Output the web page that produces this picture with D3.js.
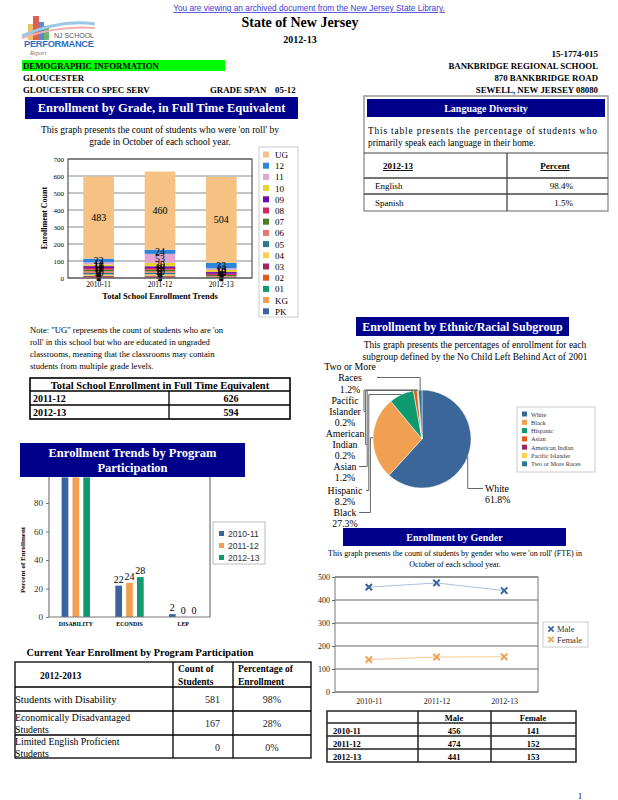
<!DOCTYPE html>
<html><head><meta charset="utf-8">
<script src="https://cdn.jsdelivr.net/npm/d3@7"></script>
<style>
body{margin:0;background:#fff;}
svg{display:block;}
</style></head>
<body>
<svg id="c" width="618" height="800" font-family="'Liberation Serif', 'Times New Roman', serif"></svg>
<script>
// ---------- DATA ----------
const years = ["2010-11","2011-12","2012-13"];
const grades = ["PK","KG","01","02","03","04","05","06","07","08","09","10","11","12","UG"];
const gradeColors = ["#3a64a0","#f0a050","#0e9a6e","#e05a1e","#a02860","#ffd04f","#2a7a8c","#e5786b","#4a7a1e","#d6255b","#6a0dad","#e5d22e","#e0a6d0","#2e86d9","#f5c283"];
const enroll2010 = [0,1,2,4,6,8,9,10,9,10,11,10,12,22,483];
const enroll2011 = [0,1,2,5,6,8,9,10,9,9,10,20,53,24,460];
const enroll2012 = [0,0,0,0,1,2,4,5,6,7,10,12,10,33,504];
const gradeTicks = [0,100,200,300,400,500,600,700];

const totalYears = ["2011-12","2012-13"];
const totalValues = [626,594];

const languages = ["English","Spanish"];
const languagePct = ["98.4%","1.5%"];

const programs = ["DISABILITY","ECONDIS","LEP"];
const prog2010 = [98,22,2];
const prog2011 = [98,24,0];
const prog2012 = [98,28,0];
const progColors = ["#3a64a0","#f0a050","#0e9a6e"];
const progTicks = [0,20,40,60,80];

const progRows = ["Students with Disability","Economically Disadvantaged|Students","Limited English Proficient|Students"];
const progCounts = [581,167,0];
const progPct = ["98%","28%","0%"];

const ethnicNames = ["White","Black","Hispanic","Asian","American Indian","Pacific Islander","Two or More Races"];
const ethnicPct = [61.8,27.3,8.2,1.2,0.2,0.2,1.2];
const ethnicColors = ["#3b6699","#f0a050","#0e9a6e","#e05a1e","#a02860","#ffd04f","#2a7a8c"];

const genderMale = [456,474,441];
const genderFemale = [141,152,153];
const genderTicks = [0,100,200,300,400,500];

// ---------- SETUP ----------
const svg = d3.select("#c");
const NAVY = "#00008b";
const SERIF = "'Liberation Serif','Times New Roman',serif";
const SANS = "'Liberation Sans',Arial,sans-serif";
function txt(g,x,y,s,o={}){
  const t=g.append("text").attr("x",x).attr("y",y).text(s)
    .attr("font-size",o.size||10).attr("fill",o.fill||"#000")
    .attr("font-family",o.family||SERIF)
    .attr("text-anchor",o.anchor||"start");
  if(o.bold) t.attr("font-weight","bold");
  if(o.italic) t.attr("font-style","italic");
  if(o.underline) t.attr("text-decoration","underline");
  if(o.len) t.attr("textLength",o.len).attr("lengthAdjust","spacing");
  return t;
}
function navyBox(x,y,w,h,lines,size){
  svg.append("rect").attr("x",x).attr("y",y).attr("width",w).attr("height",h).attr("fill",NAVY);
  const n=lines.length, lh=size*1.25;
  lines.forEach((l,i)=>txt(svg,x+w/2,y+h/2+(i-(n-1)/2)*lh+size*0.35,l,{size:size,bold:true,fill:"#fff",anchor:"middle"}));
}

// ---------- HEADER ----------
txt(svg,309,11,"You are viewing an archived document from the New Jersey State Library.",{size:8.3,family:SANS,fill:"#3a3ad6",anchor:"middle",underline:true});
const logo = svg.append("g");
[["#d03a2a",33,16,6,24],["#2e6fc0",39,22,5,18],["#4aa04a",44,26,5,14],["#e8b040",28,24,5,16]].forEach(b=>
  logo.append("rect").attr("x",b[1]).attr("y",b[2]).attr("width",b[3]).attr("height",b[4]).attr("fill",b[0]).attr("opacity",0.8));
logo.append("path").attr("d","M22,36 C45,26 70,20 95,24").attr("fill","none").attr("stroke","#9ac8e8").attr("stroke-width",3);
logo.append("path").attr("d","M22,38 C45,30 70,26 95,28").attr("fill","none").attr("stroke","#f0b0b0").attr("stroke-width",2);
txt(logo,94,38,"NJ SCHOOL",{size:7,family:SANS,fill:"#555",anchor:"end"});
txt(logo,24,47,"PERFORMANCE",{size:9.3,family:SANS,bold:true,fill:"#2e6fc0",len:70});
txt(logo,30,55,"Report",{size:6,italic:true,fill:"#777"});

txt(svg,300,27,"State of New Jersey",{size:14,bold:true,anchor:"middle"});
txt(svg,300,43,"2012-13",{size:10,bold:true,anchor:"middle"});
txt(svg,598,57,"15-1774-015",{size:9,bold:true,anchor:"end"});
svg.append("rect").attr("x",22).attr("y",60).attr("width",203).attr("height",11).attr("fill","#00ff00");
txt(svg,23,69,"DEMOGRAPHIC INFORMATION",{size:8.8,bold:true});
txt(svg,598,69,"BANKBRIDGE REGIONAL SCHOOL",{size:8.8,bold:true,anchor:"end"});
txt(svg,23,81,"GLOUCESTER",{size:8.8,bold:true});
txt(svg,598,81,"870 BANKBRIDGE ROAD",{size:8.8,bold:true,anchor:"end"});
txt(svg,23,93,"GLOUCESTER CO SPEC SERV",{size:8.8,bold:true});
txt(svg,210,93,"GRADE SPAN    05-12",{size:8.8,bold:true}).attr("xml:space","preserve").style("white-space","pre");
txt(svg,598,93,"SEWELL, NEW JERSEY 08080",{size:8.8,bold:true,anchor:"end"});

// ---------- ENROLLMENT BY GRADE ----------
navyBox(25,97,273,22,["Enrollment by Grade, in Full Time Equivalent"],12.5);
txt(svg,160,133,"This graph presents the count of students who were 'on roll' by",{size:9.5,anchor:"middle"});
txt(svg,160,145,"grade in October of each school year.",{size:9.5,anchor:"middle"});

const gData = years.map((y,i)=>{const v=[enroll2010,enroll2011,enroll2012][i];const o={year:y};grades.forEach((g,j)=>o[g]=v[j]);return o;});
const gx = d3.scaleBand().domain(years).range([68,252]).paddingInner(0.5).paddingOuter(0.25);
const gy = d3.scaleLinear().domain([0,700]).range([278,159]);
const gChart = svg.append("g");
gChart.append("g").selectAll("line").data(gradeTicks).join("line")
  .attr("x1",68).attr("x2",252).attr("y1",d=>gy(d)).attr("y2",d=>gy(d)).attr("stroke","#8a8a8a").attr("stroke-width",1);
const stack = d3.stack().keys(grades)(gData);
stack.forEach((layer,li)=>{
  gChart.append("g").selectAll("rect").data(layer).join("rect")
    .attr("x",d=>gx(d.data.year)).attr("width",gx.bandwidth())
    .attr("y",d=>gy(d[1])).attr("height",d=>gy(d[0])-gy(d[1]))
    .attr("fill",gradeColors[li]);
});
stack.forEach(layer=>{
  gChart.append("g").selectAll("text").data(layer.filter(d=>d[1]-d[0]>0)).join("text")
    .attr("x",d=>gx(d.data.year)+gx.bandwidth()/2).attr("y",d=>gy((d[0]+d[1])/2)+3.5)
    .attr("text-anchor","middle").attr("font-size",10).attr("font-family",SERIF).text(d=>d[1]-d[0]);
});
gChart.append("rect").attr("x",68).attr("y",159).attr("width",184).attr("height",119).attr("fill","none").attr("stroke","#555").attr("stroke-width",1.2);
const gyAxis = gChart.append("g").attr("transform","translate(68,0)").call(d3.axisLeft(gy).tickValues(gradeTicks).tickSize(0).tickPadding(4));
gyAxis.select(".domain").remove();
gyAxis.selectAll("text").attr("font-size",7).attr("font-family",SERIF);
const gxAxis = gChart.append("g").attr("transform","translate(0,278)").call(d3.axisBottom(gx).tickSize(0).tickPadding(4));
gxAxis.select(".domain").remove();
gxAxis.selectAll("text").attr("font-size",7.5).attr("font-family",SERIF);
txt(svg,160,299,"Total School Enrollment Trends",{size:8.5,bold:true,anchor:"middle"});
txt(svg,0,0,"Enrollment Count",{size:8,bold:true,anchor:"middle"}).attr("transform","translate(47,218) rotate(-90)");
const gl = svg.append("g");
gl.append("rect").attr("x",259).attr("y",147).attr("width",39).attr("height",170).attr("fill","#fff").attr("stroke","#ccc");
const legOrder = grades.slice().reverse();
legOrder.forEach((g,i)=>{
  const y=155+i*11.2;
  gl.append("rect").attr("x",263).attr("y",y-3.5).attr("width",6).attr("height",6).attr("fill",gradeColors[grades.indexOf(g)]);
  txt(gl,275,y+3,g,{size:9});
});

["Note: \"UG\" represents the count of students who are 'on","roll' in this school but who are educated in ungraded","classrooms, meaning that the classrooms may contain","students from multiple grade levels."]
  .forEach((l,i)=>txt(svg,30,333+i*12,l,{size:8.6}));

const tt = svg.append("g");
tt.append("rect").attr("x",30).attr("y",378).attr("width",260).attr("height",41).attr("fill","none").attr("stroke","#000").attr("stroke-width",1.6);
[391,405].forEach(y=>tt.append("line").attr("x1",30).attr("x2",290).attr("y1",y).attr("y2",y).attr("stroke","#000").attr("stroke-width",1.6));
tt.append("line").attr("x1",169).attr("x2",169).attr("y1",391).attr("y2",419).attr("stroke","#000").attr("stroke-width",1.3);
txt(tt,160,389,"Total School Enrollment in Full Time Equivalent",{size:10.5,bold:true,anchor:"middle"});
totalYears.forEach((y,i)=>{
  txt(tt,33,402+i*14,y,{size:10,bold:true});
  txt(tt,231,402+i*14,totalValues[i],{size:10,bold:true,anchor:"middle"});
});

// ---------- LANGUAGE DIVERSITY ----------
const ld = svg.append("g");
ld.append("rect").attr("x",364).attr("y",96).attr("width",244).attr("height",115).attr("fill","none").attr("stroke","#999").attr("stroke-width",1.5);
navyBox(367,99,238,18,["Language Diversity"],10);
txt(ld,368,134,"This table presents the percentage of students who",{size:9.3,len:229});
txt(ld,368,146,"primarily speak each language in their home.",{size:9.3});
[153,178,194].forEach((y,i)=>ld.append("line").attr("x1",364).attr("x2",608).attr("y1",y).attr("y2",y).attr("stroke","#444").attr("stroke-width",i==0?1:1.5));
ld.append("line").attr("x1",507).attr("x2",507).attr("y1",153).attr("y2",211).attr("stroke","#444").attr("stroke-width",1.3);
txt(ld,398,169,"2012-13",{size:9,bold:true,anchor:"middle",underline:true});
txt(ld,555,169,"Percent",{size:9,bold:true,anchor:"middle",underline:true});
languages.forEach((l,i)=>{
  txt(ld,375,189+i*16.5,l,{size:9});
  txt(ld,573,189+i*16.5,languagePct[i],{size:9,anchor:"end"});
});

// ---------- PROGRAM PARTICIPATION CHART ----------
const px = d3.scaleBand().domain(programs).range([49,210]).padding(0);
const bwp = px.bandwidth();
const pxi = d3.scaleBand().domain(years).range([bwp/2-14.2,bwp/2+14.2]).paddingInner(0.38);
const py = d3.scaleLinear().domain([0,100]).range([617,474.5]);
const pg = svg.append("g");
const progSeries = [prog2010,prog2011,prog2012];
const pData = [];
programs.forEach((p,i)=>years.forEach((y,j)=>pData.push({p:p,y:y,v:progSeries[j][i],c:progColors[j]})));
pg.selectAll("rect.b").data(pData).join("rect").attr("class","b")
  .attr("x",d=>px(d.p)+pxi(d.y)).attr("width",pxi.bandwidth())
  .attr("y",d=>py(d.v)).attr("height",d=>py(0)-py(d.v)).attr("fill",d=>d.c);
pg.selectAll("text.v").data(pData).join("text").attr("class","v")
  .attr("x",d=>px(d.p)+pxi(d.y)+pxi.bandwidth()/2).attr("y",d=>py(d.v)-3)
  .attr("text-anchor","middle").attr("font-size",10).attr("font-family",SERIF).text(d=>d.v);
pg.append("path").attr("d","M49,470 V617 H210 V470").attr("fill","none").attr("stroke","#777").attr("stroke-width",1.2);
const pyAxis = pg.append("g").attr("transform","translate(49,0)").call(d3.axisLeft(py).tickValues(progTicks).tickSize(3).tickPadding(3));
pyAxis.select(".domain").remove();
pyAxis.selectAll("line").attr("stroke","#777");
pyAxis.selectAll("text").attr("font-size",9).attr("font-family",SERIF).attr("fill","#333");
const pxAxis = pg.append("g").attr("transform","translate(0,617)").call(d3.axisBottom(px).tickSize(0).tickPadding(5));
pxAxis.select(".domain").remove();
pxAxis.selectAll("text").attr("font-size",5.8).attr("font-weight","bold").attr("font-family",SERIF);
txt(svg,0,0,"Percent of Enrollment",{size:7,bold:true,anchor:"middle"}).attr("transform","translate(25,560) rotate(-90)");
navyBox(20,443,225,34,["Enrollment Trends by Program","Participation"],12.5);
const pl = svg.append("g");
pl.append("rect").attr("x",213).attr("y",522).attr("width",52).attr("height",42).attr("fill","#fff").attr("stroke","#bbb");
years.forEach((y,i)=>{
  pl.append("rect").attr("x",219).attr("y",531+i*12).attr("width",5).attr("height",5).attr("fill",progColors[i]);
  txt(pl,228,537+i*12,y,{size:8.6,family:SANS,fill:"#333"});
});

// current year table
txt(svg,140,656,"Current Year Enrollment by Program Participation",{size:10.3,bold:true,anchor:"middle"});
const ct = svg.append("g");
ct.append("rect").attr("x",15).attr("y",662).attr("width",296).attr("height",96).attr("fill","none").attr("stroke","#000").attr("stroke-width",1.3);
[687,711,735].forEach(y=>ct.append("line").attr("x1",15).attr("x2",311).attr("y1",y).attr("y2",y).attr("stroke","#000").attr("stroke-width",1.3));
[173,233].forEach(x=>ct.append("line").attr("x1",x).attr("x2",x).attr("y1",662).attr("y2",758).attr("stroke","#000").attr("stroke-width",1.3));
txt(ct,40,679,"2012-2013",{size:9.5,bold:true});
txt(ct,178,672,"Count of",{size:9.5,bold:true});
txt(ct,178,685,"Students",{size:9.5,bold:true});
txt(ct,238,672,"Percentage of",{size:9.5,bold:true});
txt(ct,238,685,"Enrollment",{size:9.5,bold:true});
progRows.forEach((r,i)=>{
  const parts=r.split("|");
  const c = 699+i*24;
  if(parts.length==1) txt(ct,15,c+4,parts[0],{size:10.5});
  else {txt(ct,15,c-2.5,parts[0],{size:9.8});txt(ct,15,c+9.5,parts[1],{size:9.8});}
  txt(ct,220,c+4,progCounts[i],{size:10,anchor:"end",fill:"#222"});
  txt(ct,272,c+4,progPct[i],{size:10,anchor:"middle",fill:"#222"});
});

// ---------- ETHNIC PIE ----------
navyBox(356,317,213,19,["Enrollment by Ethnic/Racial Subgroup"],12);
txt(svg,475,348,"This graph presents the percentages of enrollment for each",{size:9.5,anchor:"middle"});
txt(svg,475,360,"subgroup defined by the No Child Left Behind Act of 2001",{size:9.5,anchor:"middle"});
const cx=422, cy=439, R=49;
const pie = d3.pie().sort(null).value(d=>d.v);
const arcs = pie(ethnicNames.map((n,i)=>({n:n,v:ethnicPct[i],c:ethnicColors[i]})));
const arcGen = d3.arc().innerRadius(0).outerRadius(R);
const pieG = svg.append("g").attr("transform",`translate(${cx},${cy})`);
pieG.selectAll("path").data(arcs).join("path").attr("d",arcGen).attr("fill",d=>d.data.c).attr("stroke","#fff").attr("stroke-width",0.5);
const labelPos = {
  "Two or More Races":{x:350,y:[370,381,393],lines:["Two or More","Races",null],link:1},
  "Pacific Islander":{x:345,y:[404,415,426],lines:["Pacific","Islander",null],link:1},
  "American Indian":{x:345,y:[437,448,459],lines:["American","Indian",null],link:1},
  "Asian":{x:345,y:[470,481],lines:["Asian",null],link:0},
  "Hispanic":{x:345,y:[494,505],lines:["Hispanic",null],link:0},
  "Black":{x:345,y:[516,527],lines:["Black",null],link:0},
  "White":{x:485,y:[492,503],lines:["White",null],link:0,left:true}
};
const lead = svg.append("g").attr("fill","none").attr("stroke","#666").attr("stroke-width",1);
const leftOrder = ["Pacific Islander","American Indian","Asian","Hispanic","Black"];
arcs.forEach(a=>{
  const lp = labelPos[a.data.n];
  const mid=(a.startAngle+a.endAngle)/2;
  const ax=cx+R*Math.sin(mid), ay=cy-R*Math.cos(mid);
  lp.lines.forEach((l,i)=>txt(svg,lp.x,lp.y[i],l===null?d3.format(".1f")(a.data.v)+"%":l,{size:9.8,anchor:lp.left?"start":"middle"}));
  const ly = lp.y[lp.link]-3.5;
  if(a.data.n==="White"){
    lead.append("path").attr("d",`M${ax},${ay} L${ax},${ly} L${lp.x-2},${ly}`);
  } else if(a.data.n==="Two or More Races"){
    lead.append("path").attr("d",`M${ax},${ay} L${ax},${ly} L${lp.x+27},${ly}`);
  } else {
    const k=leftOrder.indexOf(a.data.n);
    const xv=364+k*1.6;
    const w = a.data.n==="American Indian"?22:(a.data.n==="Pacific Islander"?20:(a.data.n==="Hispanic"?21:14));
    lead.append("path").attr("d",`M${ax},${ay} L${xv},${ay} L${xv},${ly} L${lp.x+w},${ly}`);
  }
});
const el = svg.append("g");
el.append("rect").attr("x",517).attr("y",407).attr("width",78).attr("height",65).attr("fill","#fff").attr("stroke","#ccc");
ethnicNames.forEach((n,i)=>{
  el.append("rect").attr("x",522).attr("y",411.5+i*8.3).attr("width",5).attr("height",5).attr("fill",ethnicColors[i]);
  txt(el,531,416.5+i*8.3,n,{size:6.3,fill:"#333"});
});

// ---------- GENDER ----------
navyBox(343,528,223,18,["Enrollment by Gender"],10);
txt(svg,455,556,"This graph presents the count of students by gender who were 'on roll' (FTE) in",{size:8,anchor:"middle"});
txt(svg,455,567,"October of each school year.",{size:8,anchor:"middle"});
const lx = d3.scalePoint().domain(years).range([335,538]).padding(0.5);
const ly = d3.scaleLinear().domain([0,500]).range([692,577]);
const lg = svg.append("g");
lg.selectAll("line.g").data(genderTicks).join("line").attr("class","g")
  .attr("x1",335).attr("x2",538).attr("y1",d=>ly(d)).attr("y2",d=>ly(d)).attr("stroke","#666");
lg.append("rect").attr("x",335).attr("y",577).attr("width",203).attr("height",115).attr("fill","none").attr("stroke","#777");
const lyAxis = lg.append("g").attr("transform","translate(335,0)").call(d3.axisLeft(ly).tickValues(genderTicks).tickSize(3).tickPadding(2));
lyAxis.select(".domain").remove();
lyAxis.selectAll("line").attr("stroke","#666");
lyAxis.selectAll("text").attr("font-size",8).attr("font-family",SERIF).attr("fill","#222");
const lxAxis = lg.append("g").attr("transform","translate(0,692)").call(d3.axisBottom(lx).tickSize(0).tickPadding(6));
lxAxis.select(".domain").remove();
lxAxis.selectAll("text").attr("font-size",8).attr("font-family",SERIF).attr("fill","#222");
const lineGen = d3.line().x((d,i)=>lx(years[i])).y(d=>ly(d));
const gSeries = [{v:genderMale,c:"#3a64a0",lc:"#a9c1e3"},{v:genderFemale,c:"#f0a050",lc:"#f7c995"}];
gSeries.forEach(s=>{
  lg.append("path").attr("d",lineGen(s.v)).attr("fill","none").attr("stroke",s.lc).attr("stroke-width",1);
  lg.selectAll(null).data(s.v).join("path")
    .attr("transform",(d,i)=>`translate(${lx(years[i])},${ly(d)})`)
    .attr("d",d3.symbol(d3.symbolTimes,28)).attr("fill","none").attr("stroke",s.c).attr("stroke-width",2);
});
const gl2 = svg.append("g");
gl2.append("rect").attr("x",543).attr("y",622).attr("width",45).attr("height",25).attr("fill","#fff").attr("stroke","#ccc");
["Male","Female"].forEach((n,i)=>{
  gl2.append("path").attr("transform",`translate(551,${629+i*10.5})`).attr("d",d3.symbol(d3.symbolTimes,20)).attr("fill","none").attr("stroke",gSeries[i].c).attr("stroke-width",1.6);
  txt(gl2,557,632+i*10.5,n,{size:8.5,fill:"#333"});
});
const gt = svg.append("g");
gt.append("rect").attr("x",327).attr("y",711).attr("width",249).attr("height",51).attr("fill","none").attr("stroke","#222").attr("stroke-width",1.5);
[723,736,749].forEach(y=>gt.append("line").attr("x1",327).attr("x2",576).attr("y1",y).attr("y2",y).attr("stroke","#222").attr("stroke-width",1.5));
[418,491].forEach(x=>gt.append("line").attr("x1",x).attr("x2",x).attr("y1",711).attr("y2",762).attr("stroke","#222").attr("stroke-width",1.5));
txt(gt,454,720.5,"Male",{size:8.5,bold:true,anchor:"middle"});
txt(gt,533,720.5,"Female",{size:8.5,bold:true,anchor:"middle"});
years.forEach((y,i)=>{
  txt(gt,333,733.5+i*13,y,{size:8.5,bold:true});
  txt(gt,454,733.5+i*13,genderMale[i],{size:8.5,bold:true,anchor:"middle"});
  txt(gt,533,733.5+i*13,genderFemale[i],{size:8.5,bold:true,anchor:"middle"});
});
txt(svg,580,799,"1",{size:9,anchor:"middle"});
</script>
</body></html>
